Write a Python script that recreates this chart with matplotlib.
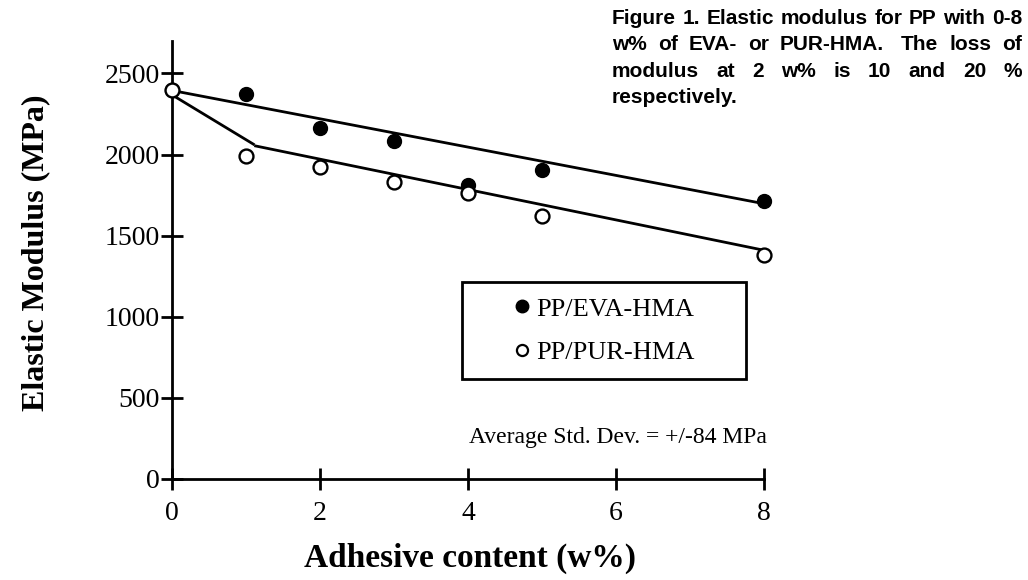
import matplotlib
matplotlib.use("Agg")
import matplotlib.pyplot as plt
from matplotlib.patches import Rectangle
from matplotlib.lines import Line2D

# Adhesive content (w%) and measured elastic modulus (MPa)
adhesive = [0, 1, 2, 3, 4, 5, 8]
eva_modulus = [2400, 2375, 2165, 2085, 1815, 1905, 1715]
pur_modulus = [2400, 1990, 1925, 1830, 1765, 1620, 1380]

# Trend lines drawn through each series
eva_trend_x = [0, 8]
eva_trend_y = [2395, 1697]
pur_trend1_x = [0, 1.1]
pur_trend1_y = [2368, 2064]
pur_trend2_x = [1.13, 8]
pur_trend2_y = [2053, 1410]

y_ticks = [0, 500, 1000, 1500, 2000, 2500]
x_ticks = [0, 2, 4, 6, 8]

series_labels = ["PP/EVA-HMA", "PP/PUR-HMA"]
caption_lines = [
    "Figure 1. Elastic modulus for PP with 0-8",
    "w% of EVA- or PUR-HMA.  The loss of",
    "modulus at 2 w% is 10 and 20 %",
    "respectively.",
]
std_note = "Average Std. Dev. = +/-84 MPa"

W, H, DPI = 1028, 580, 100
SERIF = "Liberation Serif"
SANS = "Liberation Sans"

fig = plt.figure(figsize=(W / DPI, H / DPI), dpi=DPI)
fig.patch.set_facecolor("white")

ax = fig.add_axes([172 / W, 1 - 479 / H, 592 / W, 438 / H])
ax.set_xlim(0, 8)
ax.set_ylim(0, 2700)

for side in ("top", "right"):
    ax.spines[side].set_visible(False)
for side in ("left", "bottom"):
    ax.spines[side].set_linewidth(2)
    ax.spines[side].set_color("black")

ax.set_xticks(x_ticks)
ax.set_yticks(y_ticks)
ax.tick_params(axis="both", direction="inout", length=16, width=2,
               labelsize=20, colors="black")
ax.tick_params(axis="y", pad=1)
ax.tick_params(axis="x", pad=8)
for lab in ax.get_xticklabels() + ax.get_yticklabels():
    lab.set_fontfamily(SERIF)

# Trend lines
ax.plot(eva_trend_x, eva_trend_y, color="black", lw=2, zorder=2)
ax.plot(pur_trend1_x, pur_trend1_y, color="black", lw=2, zorder=2)
ax.plot(pur_trend2_x, pur_trend2_y, color="black", lw=2, zorder=2)

# Data points
ax.plot(adhesive, eva_modulus, linestyle="none", marker="o", markersize=10,
        markerfacecolor="black", markeredgecolor="black", clip_on=False,
        zorder=3)
ax.plot(adhesive, pur_modulus, linestyle="none", marker="o", markersize=10,
        markerfacecolor="white", markeredgecolor="black", markeredgewidth=1.7,
        clip_on=False, zorder=4)

# Legend box with its entries
box_l, box_r, box_t, box_b = 462, 746, 282, 379


def to_ax(px, py):
    return (px - 172) / 592, (479 - py) / 438


bx0, by0 = to_ax(box_l, box_b)
bx1, by1 = to_ax(box_r, box_t)
ax.add_patch(Rectangle((bx0, by0), bx1 - bx0, by1 - by0, transform=ax.transAxes,
                       fill=False, edgecolor="black", lw=2, zorder=5))
handles = [
    Line2D([], [], linestyle="none", marker="o", markersize=9,
           markerfacecolor="black", markeredgecolor="black"),
    Line2D([], [], linestyle="none", marker="o", markersize=8,
           markerfacecolor="white", markeredgecolor="black", markeredgewidth=1.6),
]
leg = ax.legend(handles, series_labels, loc="center",
                bbox_to_anchor=((bx0 + bx1) / 2, (by0 + by1) / 2),
                bbox_transform=ax.transAxes, frameon=False,
                prop={"family": SERIF, "size": 19}, handlelength=0.6,
                handletextpad=0.25, labelspacing=0.75, borderpad=0)

# Std. deviation note
ax.text(*to_ax(767, 438), std_note, transform=ax.transAxes, ha="right",
        va="center", fontsize=17, fontfamily=SERIF)

# Axis titles
fig.text(470 / W, 1 - 558 / H, "Adhesive content (w%)", ha="center",
         va="center", fontsize=24, fontweight="bold", fontfamily=SERIF)
fig.text(36 / W, 1 - 253 / H, "Elastic Modulus (MPa)", ha="center",
         va="center", rotation=90, fontsize=23, fontweight="bold",
         fontfamily=SERIF)

# Justified caption block at the top right
renderer = fig.canvas.get_renderer()
cap_x0, cap_x1 = 612, 1022
cap_base0, cap_pitch = 24, 26.5
cap_kw = dict(fontsize=15, fontweight="bold", fontfamily=SANS,
              va="baseline", ha="left")
probe_a = fig.text(0, 0, "a a", **cap_kw)
probe_b = fig.text(0, 0, "aa", **cap_kw)
space_w = (probe_a.get_window_extent(renderer).width
           - probe_b.get_window_extent(renderer).width)
probe_a.remove()
probe_b.remove()

for i, line in enumerate(caption_lines):
    # a run of spaces becomes one stretchable gap plus fixed extra spaces
    tokens = line.split(" ")
    words, extras = [], []
    for tok in tokens:
        if tok:
            words.append(tok)
            extras.append(0.0)
        else:
            extras[-1] += space_w
    texts = [fig.text(0, 0, w, **cap_kw) for w in words]
    widths = [t.get_window_extent(renderer).width for t in texts]
    last = i == len(caption_lines) - 1
    if last or len(words) < 2:
        gap = space_w
    else:
        gap = (cap_x1 - cap_x0 - sum(widths) - sum(extras[:-1])) / (len(words) - 1)
    x = cap_x0
    y = cap_base0 + i * cap_pitch
    for t, w, ex in zip(texts, widths, extras):
        t.set_position((x / W, 1 - y / H))
        x += w + gap + ex

fig.savefig("out.png", dpi=DPI, facecolor="white")
